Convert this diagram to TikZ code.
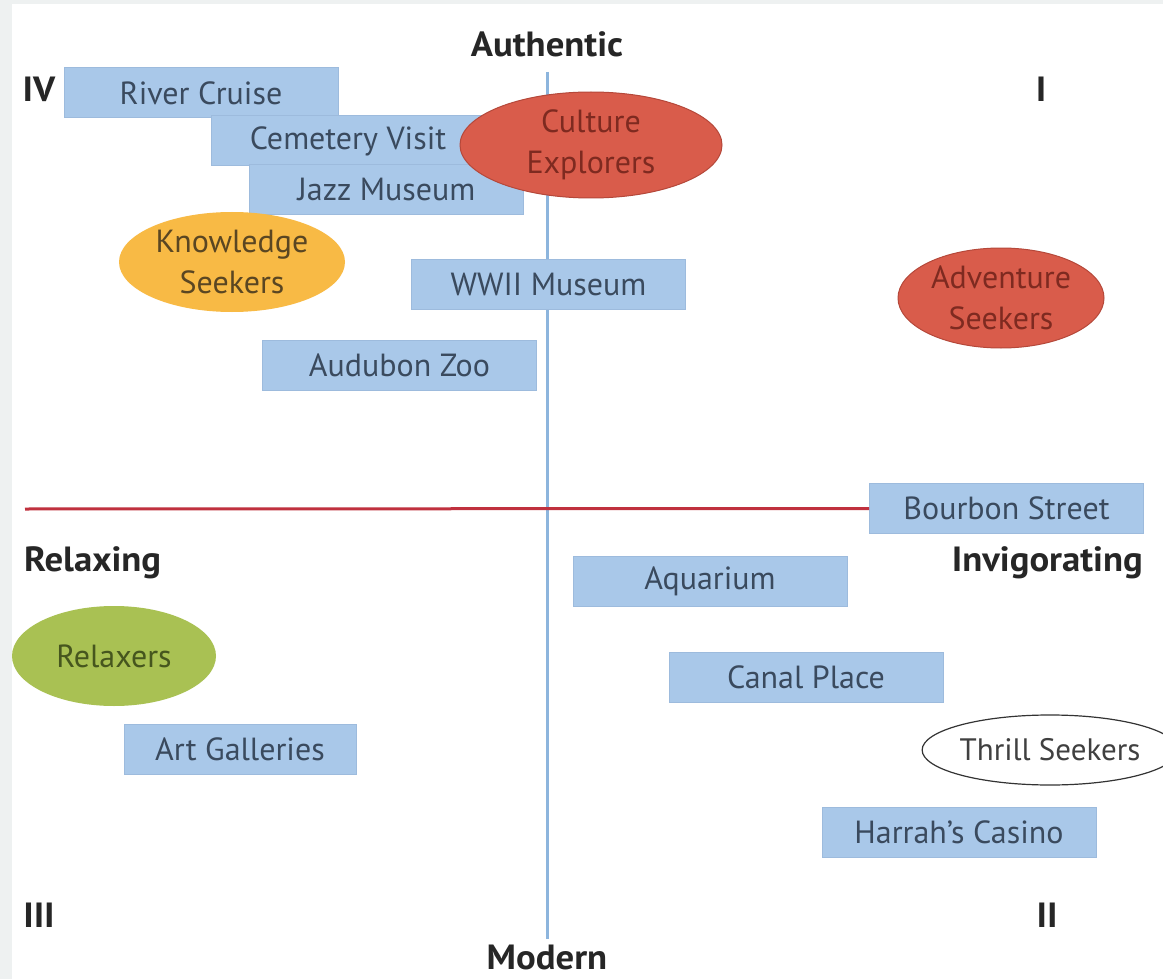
\documentclass[tikz,border=0pt]{standalone}
\usepackage{fontspec}
\setmainfont{PT Sans}
\newfontfamily\labfont[FakeStretch=1.05]{PT Sans Bold}
\usetikzlibrary{shapes.geometric}
\definecolor{boxfill}{HTML}{A9C8E9}
\definecolor{boxline}{HTML}{9DBBDD}
\definecolor{boxtext}{HTML}{3A4A5E}
\definecolor{vline}{HTML}{8DB5DD}
\definecolor{hline}{HTML}{C0313E}
\definecolor{redfill}{HTML}{D95C4B}
\definecolor{redline}{HTML}{B5483A}
\definecolor{redtext}{HTML}{7E2A20}
\definecolor{yelfill}{HTML}{F8BA45}
\definecolor{yeltext}{HTML}{5A4622}
\definecolor{grnfill}{HTML}{A9C153}
\definecolor{grntext}{HTML}{46561E}
\definecolor{edgegray}{HTML}{EEF1F1}
\tikzset{
  place/.style={draw=boxline, line width=1pt, fill=boxfill, text=boxtext, minimum height=50pt, minimum width=274pt, inner sep=0pt, font=\fontsize{32}{36}\selectfont},
  group/.style={ellipse, inner sep=0pt, align=center, font=\fontsize{32}{41}\selectfont},
  axislabel/.style={font=\labfont\fontsize{35}{38}\selectfont, text=black!85, inner sep=0pt, anchor=base},
  quad/.style={font=\labfont\fontsize{35}{38}\selectfont, text=black!85, inner sep=0pt, anchor=base}
}
\begin{document}
\begin{tikzpicture}[x=1pt,y=-1pt]
\useasboundingbox (0,0) rectangle (1163,979);
\fill[white] (0,0) rectangle (1163,979);
\fill[edgegray] (0,0) rectangle (1163,4);
\fill[edgegray] (0,0) rectangle (12,979);

% axes
\coordinate (vtop) at (547,72);
\coordinate (vbot) at (547,939);
\coordinate (hleft) at (25,509);
\draw[vline, line width=3pt] (vtop) -- (vbot);

% axis labels
\node[axislabel] (authentic) at (547,57) {Authentic};
\node[axislabel] (modern) at (547,969) {Modern};
\node[axislabel, anchor=base west] (relaxing) at (24,571) {Relaxing};
\node[axislabel, anchor=base east] (invig) at (1143,571) {Invigorating};
\node[quad] (q4) at (39,102) {IV};
\node[quad] (q1) at (1041,102) {I};
\node[quad] (q3) at (39,927) {III};
\node[quad] (q2) at (1047,927) {II};

% boxes
\node[place] (river) at (201,93) {River Cruise};
\node[place] (cemetery) at (348,141) {Cemetery Visit};
\node[place] (jazz) at (386.5,189.5) {Jazz Museum};
\node[place] (wwii) at (548.5,284) {WWII Museum};
\node[place] (zoo) at (399.5,365) {Audubon Zoo};
\node[place] (bourbon) at (1006.5,508.5) {Bourbon Street};
\node[place] (aquarium) at (710,581) {Aquarium};
\node[place] (canal) at (806,677) {Canal Place};
\node[place, minimum width=232pt] (art) at (240,749.5) {Art Galleries};
\node[place] (harrah) at (959,832) {Harrah’s Casino};

\draw[hline, line width=3pt] (hleft) -- (bourbon.west);

% groups
\node[group, draw=redline, line width=1pt, fill=redfill, text=redtext, minimum width=262pt, minimum height=106pt] (culture) at (591,145) {\raisebox{-4pt}{Culture}\\\raisebox{-4pt}{Explorers}};
\node[group, fill=yelfill, text=yeltext, minimum width=226pt, minimum height=100pt] (knowledge) at (232,262) {Knowledge\\Seekers};
\node[group, draw=redline, line width=1pt, fill=redfill, text=redtext, minimum width=206pt, minimum height=100pt] (adventure) at (1001,298) {Adventure\\Seekers};
\node[group, fill=grnfill, text=grntext, minimum width=204pt, minimum height=100pt] (relaxers) at (114,656) {Relaxers};
\node[group, draw=black!80, line width=1.2pt, fill=white, text=black!75, minimum width=224pt, minimum height=70pt, font=\fontsize{31}{36}\selectfont] (thrill) at (1050,750) {Thrill Seekers};
\end{tikzpicture}
\end{document}
